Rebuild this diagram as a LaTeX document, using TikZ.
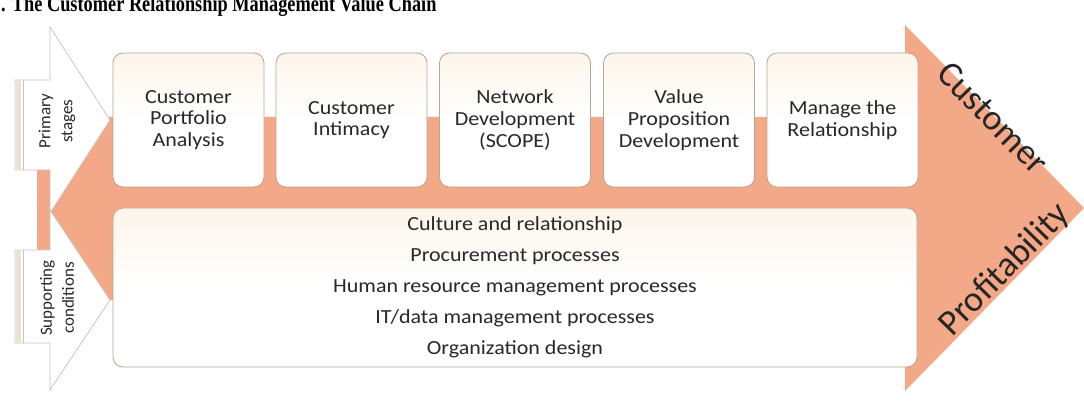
\documentclass[tikz,border=0pt]{standalone}
\usepackage{fontspec}
\setmainfont{Liberation Serif}
\setsansfont{Carlito}
\newfontfamily\widesans{Carlito}[FakeStretch=1.1]
\definecolor{salmon}{RGB}{243,168,135}
\definecolor{boxline}{RGB}{185,165,145}
\definecolor{cream}{RGB}{252,245,234}
\definecolor{txt}{RGB}{40,40,40}
\definecolor{wline}{RGB}{200,195,190}
\definecolor{stripe}{RGB}{236,226,212}
\tikzset{
  stagebox/.style={draw=boxline, line width=0.8pt, rounded corners=10pt,
    top color=cream, bottom color=white, middle color=white,
    minimum width=151pt, minimum height=134pt, align=center,
    font=\widesans\fontsize{20}{21.7}\selectfont, text=txt, inner sep=0pt},
  supbox/.style={draw=boxline, line width=0.8pt, rounded corners=10pt,
    top color=cream, bottom color=white, middle color=white,
    minimum width=804pt, minimum height=159pt, align=center,
    font=\widesans\fontsize{20}{31}\selectfont, text=txt, inner sep=0pt},
  warrow/.style={fill=white, draw=wline, line width=0.7pt},
  sidetext/.style={rotate=90, align=center, font=\sffamily\fontsize{17}{22}\selectfont, text=txt},
  bigtext/.style={font=\sffamily\fontsize{36}{40}\selectfont, text=black!85}
}
\begin{document}
\begin{tikzpicture}[x=1pt,y=-1pt]
\useasboundingbox (0,0) rectangle (1084,419);
\fill[white] (0,0) rectangle (1084,419);
% title (cut at top)
\begin{scope}
\clip (0,0) rectangle (1084,419);
\node[anchor=base west, inner sep=0pt, xscale=0.965, yscale=1.2, font=\bfseries\fontsize{19}{22}\selectfont] (title) at (1,12) {. The Customer Relationship Management Value Chain};
\end{scope}
% main salmon arrow
\fill[salmon] (37,117) -- (905,117) -- (905,25) -- (1084,208) -- (905,391) -- (905,300) -- (37,300) -- cycle;
% white side arrows
\filldraw[warrow] (15,80) -- (50,80) -- (50,27) -- (110,120) -- (50,213) -- (50,170) -- (15,170) -- cycle;
\filldraw[warrow] (15,250) -- (50,250) -- (50,210) -- (110,300) -- (50,390) -- (50,343) -- (15,343) -- cycle;
\fill[stripe] (15.5,80.5) rectangle (21,169.5);
\fill[stripe] (15.5,250.5) rectangle (21,342.5);
\draw[wline, line width=0.5pt] (23,80) -- (23,170);
\draw[wline, line width=0.5pt] (23,250) -- (23,343);
\node[sidetext] (ps) at (57,121) {Primary\\stages};
\node[sidetext] (sc) at (57,298) {Supporting\\conditions};
% stage boxes
\node[stagebox] (b1) at (188.5,120) {Customer\\Portfolio\\Analysis};
\node[stagebox] (b2) at (351.5,120) {Customer\\Intimacy};
\node[stagebox] (b3) at (515,120) {Network\\Development\\(SCOPE)};
\node[stagebox] (b4) at (679,120) {Value\\Proposition\\Development};
\node[stagebox] (b5) at (842.5,120) {Manage the\\Relationship};
% supporting box
\node[supbox] (sup) at (515,287.5) {Culture and relationship\\Procurement processes\\Human resource management processes\\IT/data management processes\\Organization design};
% head texts
\node[bigtext, rotate=-45.6] (cust) at (993,118) {Customer};
\node[bigtext, rotate=45.6] (prof) at (1005,270) {Profitability};
\end{tikzpicture}
\end{document}
